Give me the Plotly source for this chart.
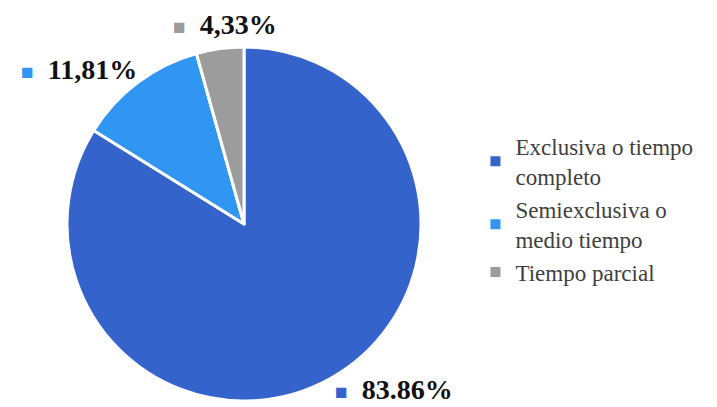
import plotly.graph_objects as go

categories = ["Exclusiva o tiempo<br>completo", "Semiexclusiva o<br>medio tiempo", "Tiempo parcial"]
values = [83.86, 11.81, 4.33]
value_labels = ["83.86%", "11,81%", "4,33%"]
colors = ["#3563CC", "#3096F2", "#9C9C9C"]

fig = go.Figure()
fig.add_trace(go.Pie(
    labels=categories,
    values=values,
    sort=False,
    direction="clockwise",
    rotation=0,
    marker=dict(colors=colors, line=dict(color="white", width=3)),
    textinfo="none",
    hoverinfo="label+percent",
    domain=dict(x=[59/717, 413/717], y=[14/407, 368/407]),
))

# label positions (paper coords)
label_pos = [(0.453, 0.062), (0.016, 0.848), (0.227, 0.960)]
for txt, col, (px, py) in zip(value_labels, colors, label_pos):
    fig.add_annotation(
        x=px, y=py, xref="paper", yref="paper", xanchor="left", yanchor="middle",
        showarrow=False,
        text=f"<span style='color:{col};font-size:21px'>■</span>  <b>{txt}</b>",
        font=dict(family="Liberation Serif", size=28, color="#111111"),
    )

fig.update_layout(
    width=717, height=407,
    margin=dict(l=0, r=0, t=0, b=0),
    paper_bgcolor="white",
    plot_bgcolor="white",
    showlegend=True,
    legend=dict(
        x=0.652, y=0.505, xanchor="left", yanchor="middle",
        font=dict(family="Liberation Serif", size=23, color="#404040"),
        itemsizing="constant",
        itemwidth=30,
    ),
)

fig.write_html("out.html")
